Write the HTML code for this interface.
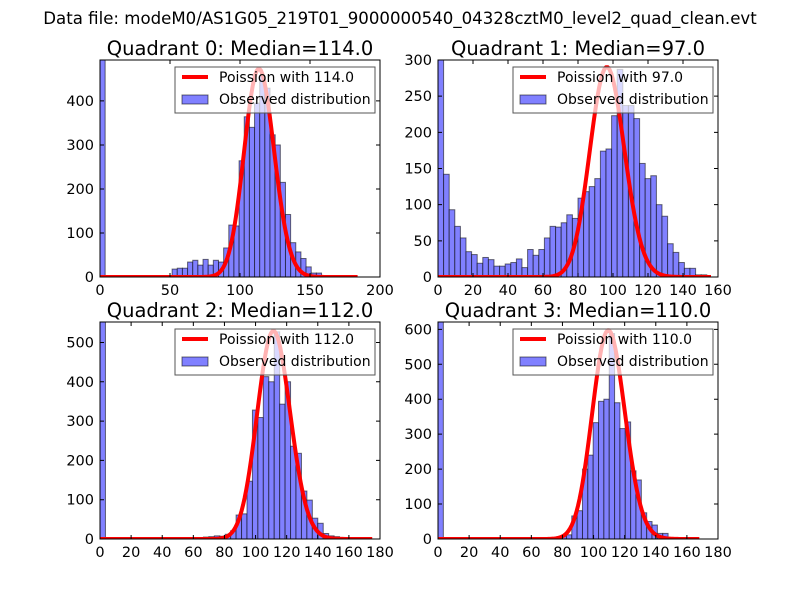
<!DOCTYPE html>
<html><head><meta charset="utf-8">
<style>
html,body{margin:0;padding:0;background:#fff;}
svg{display:block;font-family:"DejaVu Sans","Liberation Sans",sans-serif;}
</style></head>
<body>
<svg id="fig" width="800" height="600" viewBox="0 0 800 600" xmlns="http://www.w3.org/2000/svg">
<rect x="0" y="0" width="800" height="600" fill="#fff"/>
<text x="400" y="24" font-size="16.6" text-anchor="middle">Data file: modeM0/AS1G05_219T01_9000000540_04328cztM0_level2_quad_clean.evt</text>
</svg>
<script>
// ---------- data ----------
const q0Counts = [493,0,0,0,0,1,0,0,0,0,0,0,0,1,18,20,20,34,38,27,40,27,38,34,66,118,116,264,364,340,395,457,429,323,300,215,142,78,57,42,23,9,9,0,0,0,0,0,0,0];
const q1Counts = [305,142,93,70,54,35,31,19,27,24,15,15,18,20,25,13,38,30,38,54,70,69,75,86,81,109,118,125,136,174,177,223,287,237,237,219,157,136,140,100,84,46,34,20,12,12,3,3,0,0];
const q2Counts = [552,0,0,0,0,0,1,0,0,0,0,0,0,0,0,0,0,1,3,5,6,8,7,12,21,61,64,147,328,309,413,400,527,343,400,236,218,122,99,53,40,14,8,6,4,0,0,0,0,0];
const q3Counts = [621,0,0,0,0,0,0,0,0,0,0,0,0,0,0,0,0,0,3,4,4,3,6,8,12,66,81,200,240,333,394,400,588,390,316,335,195,169,75,50,40,16,16,0,0,0,0,0,0,0];
const binRanges = [184,160,175,172];
const medians = [114,97,112,110];
const curvePeaks = [473,290,529,597];
const curveMax = [184,156,175,168];
const xMaxes = [200,160,180,180];
const yMaxes = [493,300,552,621];
const xTicks0 = [0,50,100,150,200];
const xTicks1 = [0,20,40,60,80,100,120,140,160];
const xTicks23 = [0,20,40,60,80,100,120,140,160,180];
const yTicks0 = [0,100,200,300,400];
const yTicks1 = [0,50,100,150,200,250,300];
const yTicks2 = [0,100,200,300,400,500];
const yTicks3 = [0,100,200,300,400,500,600];

const NS = "http://www.w3.org/2000/svg";
const svg = document.getElementById('fig');
function mk(tag, attrs, parent){
  const e = document.createElementNS(NS, tag);
  for (const k in attrs) e.setAttribute(k, attrs[k]);
  (parent||svg).appendChild(e);
  return e;
}
function lgamma(n){ let s=0; for(let i=2;i<=n;i++) s+=Math.log(i); return s; }
function pmf(k, lam){ return Math.exp(k*Math.log(lam) - lam - lgamma(k)); }

const boxes = [[100,60,380,277],[438,60,718,277],[100,322,380,539],[438,322,718,539]];
const countsList = [q0Counts,q1Counts,q2Counts,q3Counts];
const xTickList = [xTicks0,xTicks1,xTicks23,xTicks23];
const yTickList = [yTicks0,yTicks1,yTicks2,yTicks3];

for (let q=0;q<4;q++){
  const [L,T,R,B] = boxes[q];
  const xs = v => L + (R-L)*v/xMaxes[q];
  const ys = v => B - (B-T)*Math.min(v, yMaxes[q])/yMaxes[q];
  const g = mk('g', {});
  
  
  const clipId = 'clip'+q;
  const cp = mk('clipPath', {id: clipId}, g);
  mk('rect', {x:L, y:T, width:R-L, height:B-T}, cp);

  const title = mk('text', {x:(L+R)/2, y:T-5, 'font-size':19.5, 'text-anchor':'middle'}, g);
  title.textContent = 'Quadrant ' + q + ': Median=' + medians[q].toFixed(1);
  
  

  const counts = countsList[q];
  const bw = binRanges[q]/counts.length;
  const bars = mk('g', {'clip-path':'url(#'+clipId+')'}, g);
  
  
  for (let i=0;i<counts.length;i++){
    if (counts[i] <= 0) continue;
    const x0 = xs(i*bw), x1 = xs((i+1)*bw);
    const y0 = ys(counts[i]);
    const r = mk('rect', {x:x0, y:y0, width:x1-x0, height:B-y0, fill:'rgb(128,128,255)', stroke:'rgba(0,0,0,0.55)', 'stroke-width':1}, bars);
    
    
  }

  const lam = medians[q];
  const peak = pmf(Math.floor(lam), lam);
  let d = '';
  for (let k=0;k<=curveMax[q];k++){
    const v = pmf(k, lam)/peak*curvePeaks[q];
    d += (k?'L':'M') + xs(k).toFixed(2) + ',' + ys(v).toFixed(2);
  }
  const curve = mk('path', {d:d, fill:'none', stroke:'#ff0000', 'stroke-width':4, 'stroke-linejoin':'round', 'clip-path':'url(#'+clipId+')'}, g);
  
  

  const fr = mk('rect', {x:L, y:T, width:R-L, height:B-T, fill:'none', stroke:'#000', 'stroke-width':1}, g);
  
  

  for (const t of xTickList[q]){
    const x = xs(t);
    const tk = mk('path', {d:'M'+x+','+B+'v-4M'+x+','+T+'v4', stroke:'#000', 'stroke-width':1}, g);
    
    
    const lb = mk('text', {x:x, y:B+18, 'font-size':14.5, 'text-anchor':'middle'}, g);
    lb.textContent = t;
    
    
  }
  for (const t of yTickList[q]){
    const y = ys(t);
    const tk = mk('path', {d:'M'+L+','+y+'h4M'+R+','+y+'h-4', stroke:'#000', 'stroke-width':1}, g);
    
    
    const lb = mk('text', {x:L-6, y:y+5, 'font-size':14.5, 'text-anchor':'end'}, g);
    lb.textContent = t;
    
    
  }

  const lx = R-205, ly = T+7;
  const lg = mk('g', {}, g);
  
  
  const lbox = mk('rect', {x:lx, y:ly, width:200, height:46, fill:'rgba(255,255,255,0.7)', stroke:'#555', 'stroke-width':1}, lg);
  
  
  const ll = mk('line', {x1:lx+7, y1:ly+10, x2:lx+33, y2:ly+10, stroke:'#ff0000', 'stroke-width':4}, lg);
  
  
  const lt1 = mk('text', {x:lx+44, y:ly+15, 'font-size':14}, lg);
  lt1.textContent = 'Poission with ' + medians[q].toFixed(1);
  
  
  const lp = mk('rect', {x:lx+7, y:ly+28, width:26, height:9, fill:'rgb(128,128,255)', stroke:'rgba(0,0,0,0.55)', 'stroke-width':1}, lg);
  
  
  const lt2 = mk('text', {x:lx+44, y:ly+37, 'font-size':14}, lg);
  lt2.textContent = 'Observed distribution';
  
  
}
</script>
</body></html>
